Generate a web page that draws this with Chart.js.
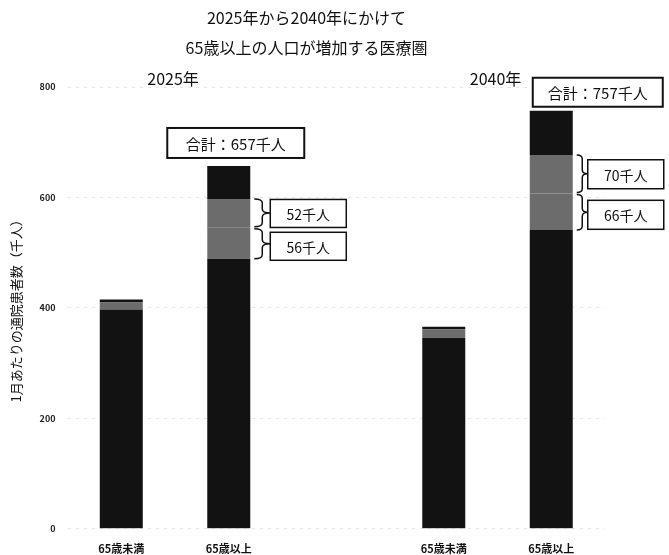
<!DOCTYPE html>
<html lang="ja">
<head>
<meta charset="UTF-8">
<title>65歳以上の人口が増加する医療圏</title>
<script src="https://cdn.jsdelivr.net/npm/chart.js"></script>
<style>
  body { margin: 0; background: #fff; }
  #wrap { width: 669px; height: 555px; }
</style>
</head>
<body>
<div id="wrap"><canvas id="chart" width="669" height="555"></canvas></div>
<script>
// data (千人)
const categories = ['65歳未満', '65歳以上', '', '65歳未満', '65歳以上'];
const baseBlack  = [397, 489, null, 346, 541];
const grayLower  = [13, 56, null, 15, 66];
const grayUpper  = [0, 52, null, 0, 70];
const topBlack   = [5, 60, null, 5, 80];
const yearLabels = ['2025年', '2040年'];
const yearGroups = [[0, 1], [3, 4]];
const calloutBars = [1, 4];
const yTicks = [0, 200, 400, 600, 800];

const FONT = "'Noto Sans CJK JP', 'Noto Sans', sans-serif";
const BLACK = '#121212';
const GRAY = '#6c6c6c';

// per-callout offsets (pixels), only styling
const totalBoxOffset = [{ dx: -40, w: 137, h: 30, gap: 8 }, { dx: 3, w: 130, h: 29, gap: 4 }];
const incBoxOffset = [{ dx: 20, w: 76, h: 28 }, { dx: 15, w: 76, h: 29 }];

function drawBrace(ctx, x, y0, y1, w) {
  const mid = (y0 + y1) / 2;
  const r = 4;
  const xm = x + w / 2;
  ctx.beginPath();
  ctx.moveTo(x, y0);
  ctx.quadraticCurveTo(xm, y0, xm, y0 + r);
  ctx.lineTo(xm, mid - r);
  ctx.quadraticCurveTo(xm, mid, x + w, mid);
  ctx.quadraticCurveTo(xm, mid, xm, mid + r);
  ctx.lineTo(xm, y1 - r);
  ctx.quadraticCurveTo(xm, y1, x, y1);
  ctx.stroke();
}

function boxText(ctx, left, top, w, h, text, size, lw) {
  ctx.fillStyle = '#fff';
  ctx.fillRect(left, top, w, h);
  ctx.lineWidth = lw;
  ctx.strokeStyle = '#111';
  ctx.strokeRect(left, top, w, h);
  ctx.fillStyle = '#111';
  ctx.font = size + 'px ' + FONT;
  ctx.textAlign = 'center';
  ctx.textBaseline = 'middle';
  ctx.fillText(text, left + w / 2, top + h / 2 + 1);
}

const calloutPlugin = {
  id: 'callouts',
  afterDatasetsDraw(chart) {
    const { ctx, scales: { x, y } } = chart;
    ctx.save();
    // year labels
    yearGroups.forEach((g, i) => {
      const cx = (x.getPixelForValue(g[0]) + x.getPixelForValue(g[1])) / 2;
      ctx.font = '16px ' + FONT;
      ctx.fillStyle = '#111';
      ctx.textAlign = 'center';
      ctx.textBaseline = 'middle';
      ctx.fillText(yearLabels[i], cx - 2, y.getPixelForValue(800) - 8);
    });
    calloutBars.forEach((idx, i) => {
      const bar = chart.getDatasetMeta(3).data[idx];
      const left = bar.x - bar.width / 2;
      const right = bar.x + bar.width / 2;
      const total = baseBlack[idx] + grayLower[idx] + grayUpper[idx] + topBlack[idx];
      const tb = totalBoxOffset[i];
      boxText(ctx, left + tb.dx, bar.y - tb.gap - tb.h, tb.w, tb.h, '合計：' + total + '千人', 15, 2);

      const yBase = y.getPixelForValue(baseBlack[idx]);
      const yMid = y.getPixelForValue(baseBlack[idx] + grayLower[idx]);
      const yTop = y.getPixelForValue(baseBlack[idx] + grayLower[idx] + grayUpper[idx]);
      const ib = incBoxOffset[i];
      ctx.lineWidth = 1.5;
      ctx.strokeStyle = '#111';
      drawBrace(ctx, right + 4, yTop, yMid - 1, ib.dx - 4);
      drawBrace(ctx, right + 4, yMid + 1, yBase, ib.dx - 4);
      boxText(ctx, right + ib.dx, (yTop + yMid) / 2 - ib.h / 2, ib.w, ib.h, grayUpper[idx] + '千人', 14, 1.5);
      boxText(ctx, right + ib.dx, (yMid + yBase) / 2 - ib.h / 2 + 3, ib.w, ib.h, grayLower[idx] + '千人', 14, 1.5);
    });
    ctx.restore();
  }
};

const ds = (data, color) => ({
  data: data,
  backgroundColor: color,
  borderColor: BLACK,
  borderWidth: 0,
  barPercentage: 0.4,
  categoryPercentage: 1.0
});

new Chart(document.getElementById('chart').getContext('2d'), {
  type: 'bar',
  data: {
    labels: categories,
    datasets: [
      ds(baseBlack, BLACK),
      ds(grayLower, GRAY),
      ds(grayUpper, GRAY),
      ds(topBlack, BLACK)
    ]
  },
  options: {
    responsive: false,
    animation: false,
    layout: { padding: { left: 8, right: 64, top: 0, bottom: -5 } },
    plugins: {
      legend: { display: false },
      tooltip: { enabled: false },
      title: {
        display: true,
        text: ['2025年から2040年にかけて', '65歳以上の人口が増加する医療圏'],
        color: '#111',
        font: { family: FONT, size: 16, weight: 'normal', lineHeight: '30px' },
        padding: { top: 3, bottom: 24 }
      }
    },
    scales: {
      x: {
        stacked: true,
        grid: { display: false },
        border: { display: false },
        ticks: {
          color: '#111',
          font: { family: FONT, size: 11, weight: 'bold' },
          padding: 5,
          maxRotation: 0
        }
      },
      y: {
        stacked: true,
        min: 0,
        max: 800,
        afterBuildTicks: axis => { axis.ticks = yTicks.map(v => ({ value: v })); },
        grid: { color: 'rgba(0,0,0,0.10)', tickLength: 0 },
        border: { display: false, dash: [3, 5] },
        ticks: {
          color: '#222',
          font: { family: FONT, size: 9, weight: 'bold' },
          padding: 12
        },
        title: {
          display: true,
          text: '1月あたりの通院患者数（千人）',
          color: '#111',
          font: { family: FONT, size: 13 },
          padding: { top: 0, bottom: 4 }
        }
      }
    }
  },
  plugins: [calloutPlugin]
});
</script>
</body>
</html>
